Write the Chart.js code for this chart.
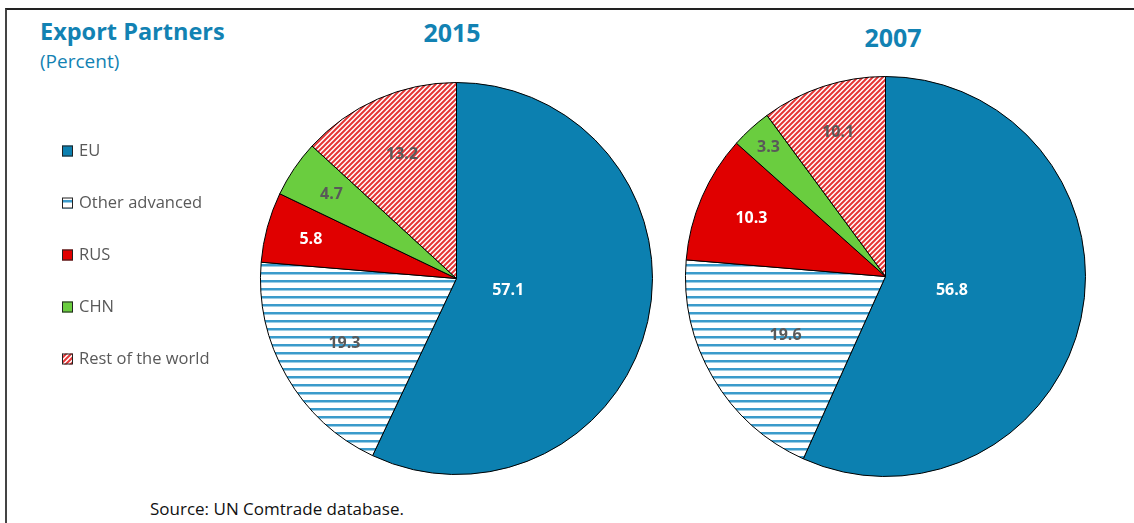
<!DOCTYPE html>
<html>
<head>
<meta charset="utf-8">
<script src="https://cdn.jsdelivr.net/npm/chart.js@4.4.1/dist/chart.umd.min.js"></script>
<style>
    body { margin: 0; background: #fff; font-family: "Open Sans", sans-serif; }
    #marco { position: relative; width: 1134px; height: 523px; overflow: hidden; background: #fff; }
    #borde { position: absolute; left: 5px; top: 8px; width: 1140px; height: 530px; border-top: 2px solid #222; border-left: 2px solid #444; }
    .texto { position: absolute; white-space: nowrap; }
    #titulo { left: 40px; top: 15px; font-size: 23.5px; font-weight: 700; color: #1282b3; }
    #subtitulo { left: 40px; top: 48px; font-size: 19px; color: #1282b3; }
    .anio { font-size: 25px; font-weight: 700; color: #1282b3; transform: translateX(-50%); }
    #fuente { left: 150px; top: 497px; font-size: 17px; color: #111; }
    canvas { position: absolute; left: 0; top: 0; }
</style>
</head>
<body>
<div id="marco">
    <div id="borde"></div>
    <div class="texto" id="titulo">Export Partners</div>
    <div class="texto" id="subtitulo">(Percent)</div>
    <div class="texto anio" style="left:452px; top:15px;">2015</div>
    <div class="texto anio" style="left:893px; top:20px;">2007</div>
    <div class="texto" id="fuente">Source: UN Comtrade database.</div>
    <canvas id="grafico2015" width="1134" height="523"></canvas>
    <canvas id="grafico2007" width="1134" height="523"></canvas>
</div>

<script>
const categorias = ['EU', 'Other advanced', 'RUS', 'CHN', 'Rest of the world'];
const valores2015 = [57.1, 19.3, 5.8, 4.7, 13.2];
const valores2007 = [56.8, 19.6, 10.3, 3.3, 10.1];

// Trama de rayas horizontales azules
function rayasHorizontales() {
    const c = document.createElement('canvas');
    c.width = 8; c.height = 8;
    const g = c.getContext('2d');
    g.fillStyle = '#ffffff';
    g.fillRect(0, 0, 8, 8);
    g.fillStyle = '#3b9bcb';
    g.fillRect(0, 0, 8, 2.5);
    return g.createPattern(c, 'repeat');
}

// Trama diagonal roja
function rayasDiagonales() {
    const c = document.createElement('canvas');
    c.width = 5; c.height = 5;
    const g = c.getContext('2d');
    g.fillStyle = '#ffffff';
    g.fillRect(0, 0, 5, 5);
    g.strokeStyle = '#e53636';
    g.lineWidth = 2;
    g.beginPath();
    g.moveTo(-1, 6); g.lineTo(6, -1);
    g.moveTo(-1, 1); g.lineTo(1, -1);
    g.moveTo(4, 6); g.lineTo(6, 4);
    g.stroke();
    return g.createPattern(c, 'repeat');
}

const colores = ['#0c80b0', rayasHorizontales(), '#e00000', '#6acd3f', rayasDiagonales()];
const coloresEtiqueta = ['#ffffff', '#595959', '#ffffff', '#595959', '#595959'];

// Etiquetas de valor dentro de cada porción
const etiquetasPlugin = {
    id: 'etiquetas',
    afterDatasetsDraw(chart, args, opts) {
        const ctx = chart.ctx;
        const meta = chart.getDatasetMeta(0);
        const datos = chart.data.datasets[0].data;
        ctx.save();
        ctx.font = 'bold 16px "Open Sans"';
        ctx.textAlign = 'center';
        ctx.textBaseline = 'middle';
        meta.data.forEach((arco, i) => {
            const p = arco.getProps(['x', 'y', 'startAngle', 'endAngle', 'outerRadius'], true);
            const medio = (p.startAngle + p.endAngle) / 2;
            const r = p.outerRadius * opts.radios[i];
            ctx.fillStyle = coloresEtiqueta[i];
            ctx.fillText(datos[i].toFixed(1), p.x + Math.cos(medio) * r, p.y + Math.sin(medio) * r);
        });
        ctx.restore();
    }
};

// Leyenda vertical a la izquierda
const leyendaPlugin = {
    id: 'leyendaLateral',
    afterDraw(chart, args, opts) {
        if (!opts.mostrar) return;
        const ctx = chart.ctx;
        const fondo = chart.data.datasets[0].backgroundColor;
        ctx.save();
        ctx.font = '16.5px "Open Sans"';
        ctx.textBaseline = 'middle';
        chart.data.labels.forEach((texto, i) => {
            const y = opts.y + i * opts.paso;
            ctx.fillStyle = fondo[i];
            ctx.fillRect(opts.x, y - 5.5, 11, 11);
            ctx.strokeStyle = '#222';
            ctx.lineWidth = 1;
            ctx.strokeRect(opts.x + 0.5, y - 5, 10, 10);
            ctx.fillStyle = '#595959';
            ctx.fillText(texto, opts.x + 17, y);
        });
        ctx.restore();
    }
};

function crearTorta(id, valores, relleno, radios, leyenda) {
    const ctx = document.getElementById(id).getContext('2d');
    return new Chart(ctx, {
        type: 'pie',
        data: {
            labels: categorias,
            datasets: [{
                data: valores,
                backgroundColor: colores,
                borderColor: '#000000',
                borderWidth: 1
            }]
        },
        options: {
            responsive: false,
            animation: false,
            layout: { padding: relleno },
            plugins: {
                legend: { display: false },
                tooltip: { enabled: false },
                etiquetas: { radios: radios },
                leyendaLateral: leyenda
            }
        },
        plugins: [etiquetasPlugin, leyendaPlugin]
    });
}

crearTorta('grafico2015', valores2015,
    { left: 260, right: 481, top: 82, bottom: 48 },
    [0.27, 0.66, 0.77, 0.77, 0.69],
    { mostrar: true, x: 62, y: 151, paso: 52 });

crearTorta('grafico2007', valores2007,
    { left: 685, right: 48, top: 76, bottom: 46 },
    [0.34, 0.58, 0.73, 0.87, 0.76],
    { mostrar: false });
</script>
</body>
</html>
